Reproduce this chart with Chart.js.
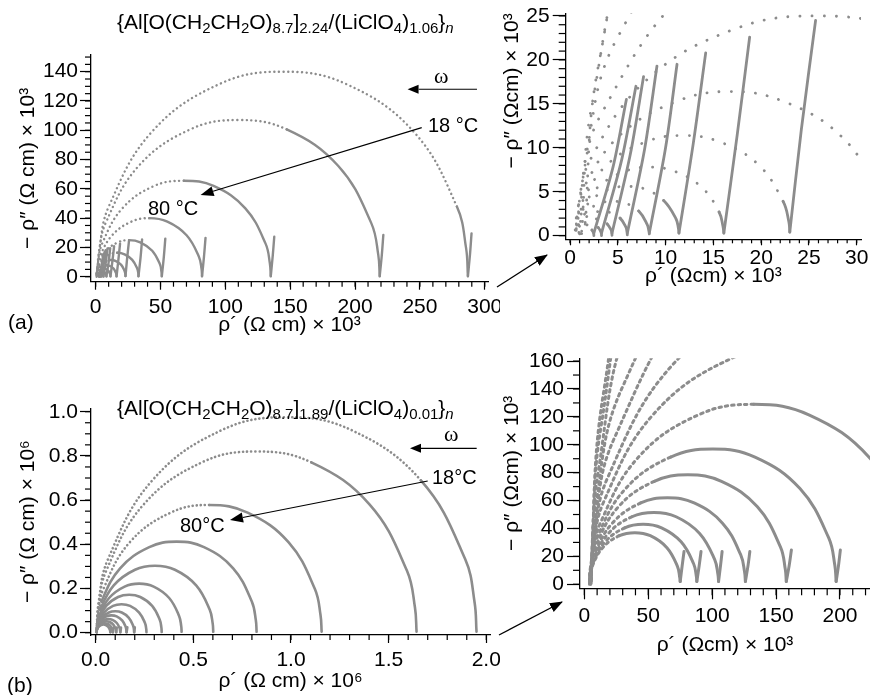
<!DOCTYPE html>
<html>
<head>
<meta charset="utf-8">
<script src="https://cdn.jsdelivr.net/npm/chart.js@4.4.1/dist/chart.umd.min.js"></script>
<style>
  body { margin: 0; background: #fff; }
  #fig { position: relative; width: 870px; height: 695px; overflow: hidden;
         font-family: 'Liberation Sans', Arial, sans-serif; color: #000; }
  canvas { position: absolute; }
  .t { position: absolute; white-space: nowrap; line-height: 1; font-size: 20px; }
  .ttl { font-size: 21px; }
  .t sub { font-size: 15px; vertical-align: -4px; line-height: 0; }
  .w { font-family: 'Liberation Serif', 'DejaVu Serif', serif; font-size: 22px; }
</style>
</head>
<body>
<div id="fig">
  <canvas id="aMain" width="500" height="340" style="left:0;top:0"></canvas>
  <canvas id="aZoom" width="370" height="292" style="left:500px;top:0"></canvas>
  <canvas id="bMain" width="500" height="350" style="left:0;top:345px"></canvas>
  <canvas id="bZoom" width="370" height="355" style="left:500px;top:340px"></canvas>

  <div class="t ttl" style="left:117px;top:11px">{Al[O(CH<sub>2</sub>CH<sub>2</sub>O)<sub>8.7</sub>]<sub>2.24</sub>/(LiClO<sub>4</sub>)<sub>1.06</sub>}<sub><i>n</i></sub></div>
  <div class="t ttl" style="left:117px;top:397px">{Al[O(CH<sub>2</sub>CH<sub>2</sub>O)<sub>8.7</sub>]<sub>1.89</sub>/(LiClO<sub>4</sub>)<sub>0.01</sub>}<sub><i>n</i></sub></div>

  <div class="t w" style="left:434px;top:65px">ω</div>
  <div class="t" style="left:428px;top:115px">18 °C</div>
  <div class="t" style="left:148px;top:198px">80 °C</div>
  <div class="t w" style="left:444px;top:423px">ω</div>
  <div class="t" style="left:432px;top:467px">18°C</div>
  <div class="t" style="left:180px;top:515px">80°C</div>

  <div class="t ttl" style="left:8px;top:311px">(a)</div>
  <div class="t ttl" style="left:7px;top:674px">(b)</div>

  <svg width="870" height="695" style="position:absolute;left:0;top:0;pointer-events:none">
    <defs>
      <marker id="ah" markerWidth="13" markerHeight="10" refX="12" refY="5" orient="auto" markerUnits="userSpaceOnUse">
        <path d="M0,0 L13,5 L0,10 z" fill="#000"/>
      </marker>
    </defs>
    <line x1="497" y1="287" x2="547" y2="255" stroke="#000" stroke-width="1.3" marker-end="url(#ah)"/>
    <line x1="499" y1="635" x2="562" y2="602" stroke="#000" stroke-width="1.3" marker-end="url(#ah)"/>
  </svg>
</div>

<script>
// ---- data (units: Ohm cm x 10^3) ----
// (a) Al/LiClO4 1.06 : arcs from low-frequency end (right) to high-frequency end (left)
const arcsA = [
  [[287,0.5],[285.6,19.5],[278.5,47.9],[245.2,99],[193.1,131.6],[144.3,140],[95.5,131.6],[43.4,99],[10.1,47.9],[3,19.5],[1.5,0]],
  [[219,0.5],[217.9,14.9],[212.5,36.6],[187.1,75.6],[147.3,100.6],[110.1,107],[72.9,100.6],[33.1,75.6],[7.7,36.6],[2.3,14.9],[1.2,0]],
  [[135,0.5],[134.3,9.2],[131,22.6],[115.4,46.7],[90.9,62],[68,65.5],[45.1,62],[20.6,46.7],[5,22.6],[1.7,9.2],[1,0]],
  [[82,0.4],[81.6,5.6],[79.6,13.7],[70.1,28.3],[55.3,37.6],[41.4,40],[27.5,37.6],[12.7,28.3],[3.2,13.7],[1.2,5.6],[0.8,0]],
  [[51,0.4],[50.7,3.5],[49.5,8.6],[43.6,17.7],[34.4,23.5],[25.8,25],[17.2,23.5],[8,17.7],[2.1,8.6],[0.9,3.5],[0.6,0]],
  [[33,0.4],[32.9,2.3],[32,5.6],[28.2,11.5],[22.3,15.3],[16.7,16.4],[11.2,15.3],[5.3,11.5],[1.5,5.6],[0.7,2.3],[0.5,0]],
  [[23,0.4],[22.9,1.6],[22.3,3.9],[19.7,8.1],[15.6,10.7],[11.8,11.4],[8,10.7],[3.9,8.1],[1.3,3.9],[0.7,1.6],[0.6,0]],
  [[16.1,0.3],[16,1.1],[15.6,2.7],[13.8,5.5],[11,7.3],[8.35,7.8],[5.7,7.3],[2.9,5.5],[1.1,2.7],[0.7,1.1],[0.6,0]],
  [[11.4,0.3],[11.35,0.8],[11.1,1.9],[9.8,4],[7.85,5.3],[6,5.6],[4.15,5.3],[2.2,4],[0.9,1.9],[0.65,0.8],[0.6,0]],
  [[8.3,0.2],[8.26,0.5],[8.07,1.3],[7.19,2.8],[5.8,3.7],[4.5,3.9],[3.2,3.7],[1.81,2.8],[0.93,1.3],[0.74,0.5],[0.7,0]],
  [[6,0.1],[5.97,0.4],[5.84,1],[5.24,2],[4.29,2.6],[3.4,2.8],[2.51,2.6],[1.56,2],[0.96,1],[0.83,0.4],[0.8,0]],
  [[4.4,0.05],[4.38,0.26],[4.3,0.65],[3.89,1.34],[3.25,1.79],[2.65,1.9],[2.05,1.79],[1.41,1.34],[1,0.65],[0.92,0.26],[0.9,0]],
  [[3.3,0],[3.29,0.18],[3.23,0.44],[2.96,0.92],[2.54,1.22],[2.15,1.3],[1.76,1.22],[1.34,0.92],[1.07,0.44],[1.01,0.18],[1,0]],
  [[2.5,0],[2.49,0.13],[2.46,0.31],[2.3,0.64],[2.04,0.85],[1.8,0.9],[1.56,0.85],[1.3,0.64],[1.14,0.31],[1.11,0.13],[1.1,0]]
];
// (a) electrode spikes rising from each low-frequency end
const spikesA = [
  [[287,0.3],[288.6,15],[289.8,29.5]],
  [[219,0.3],[220.6,14.5],[221.8,28.5]],
  [[135,0.3],[136.5,14],[137.7,27.3]],
  [[82,0.3],[83.5,13.5],[84.7,26.5]],
  [[51,0.3],[52.5,13],[53.7,26]],
  [[33,0.3],[34.6,13],[35.8,25.5]],
  [[23,0.4],[24.2,12],[25.7,24.5]],
  [[16.1,0.3],[17.5,11.5],[18.8,22.6]],
  [[11.4,0.3],[12.9,10.5],[14.2,20.8]],
  [[8.3,0.3],[10,10],[11.2,19.5]],
  [[6,0.3],[7.8,9.8],[9.1,19.3]],
  [[4.4,0.3],[6.3,9.2],[7.7,18.1]],
  [[3.3,0.3],[5.4,8.6],[6.9,17]],
  [[2.5,0.3],[4.5,7.8],[5.9,15.5]]
];
// (b) Al/LiClO4 0.01
const arcsB = [
  [[1950,5],[1940.3,135.5],[1891.7,333.5],[1665.1,689.3],[1310.1,916.5],[977.5,975],[644.9,916.5],[289.9,689.3],[63.3,333.5],[14.7,135.5],[5,0]],
  [[1643,5],[1634.8,114],[1593.9,280.4],[1403,579.7],[1104.1,770.8],[824,820],[543.9,770.8],[245,579.7],[54.1,280.4],[13.2,114],[5,0]],
  [[1157,5],[1151.2,80.3],[1122.4,197.7],[988.2,408.6],[778,543.3],[581,578],[384,543.3],[173.8,408.6],[39.6,197.7],[10.8,80.3],[5,0]],
  [[824,4],[819.9,57.3],[799.4,140.9],[704,291.3],[554.5,387.3],[414.5,412],[274.5,387.3],[125,291.3],[29.6,140.9],[9.1,57.3],[5,0]],
  [[602,4],[599,42.1],[584.1,103.6],[514.5,214.2],[405.6,284.8],[303.5,303],[201.4,284.8],[92.5,214.2],[22.9,103.6],[8,42.1],[5,0]],
  [[440,4],[437.8,30.9],[427,75.9],[376.3,157],[296.9,208.7],[222.5,222],[148.1,208.7],[68.7,157],[18,75.9],[7.2,30.9],[5,0]],
  [[338,3],[336.3,23.9],[328,58.8],[289.2,121.6],[228.4,161.7],[171.5,172],[114.6,161.7],[53.8,121.6],[15,58.8],[6.7,23.9],[5,0]],
  [[260,2],[258.7,17.9],[252.4,44.1],[222.6,91.2],[176.1,121.3],[132.5,129],[88.9,121.3],[42.4,91.2],[12.6,44.1],[6.3,17.9],[5,0]],
  [[197,2],[196,13.5],[191.2,33.2],[168.7,68.6],[133.5,91.2],[100.5,97],[67.5,91.2],[32.3,68.6],[9.8,33.2],[5,13.5],[4,0]],
  [[158,2],[157.2,10.9],[153.4,26.8],[135.4,55.5],[107.3,73.8],[81,78.5],[54.7,73.8],[26.6,55.5],[8.6,26.8],[4.8,10.9],[4,0]],
  [[126,2],[125.4,8.6],[122.3,21.2],[108.1,43.8],[85.9,58.3],[65,62],[44.1,58.3],[21.9,43.8],[7.7,21.2],[4.6,8.6],[4,0]],
  [[105,2],[104.5,7.2],[102,17.6],[90.2,36.4],[71.8,48.4],[54.5,51.5],[37.2,48.4],[18.8,36.4],[7,17.6],[4.5,7.2],[4,0]],
  [[88,2],[87.6,6],[85.5,14.7],[75.7,30.4],[60.4,40.4],[46,43],[31.6,40.4],[16.3,30.4],[6.5,14.7],[4.4,6],[4,0]],
  [[75,2],[74.6,5.1],[72.9,12.7],[64.6,26.2],[51.6,34.8],[39.5,37],[27.4,34.8],[14.4,26.2],[6.1,12.7],[4.4,5.1],[4,0]]
];
const spikesB = [
  [[197,2],[198.8,13],[200.3,24.5]],
  [[158,2],[160.2,13],[162,24.5]],
  [[126,2],[128,13],[129.5,23.5]],
  [[105,2],[106.5,13],[107.8,23.5]],
  [[88,2],[89.8,13],[91.3,23.5]],
  [[75,2],[76.5,13],[78,23.5]]
];

// tick values
const ticksAMainX = [0, 50, 100, 150, 200, 250, 300];
const ticksAMainY = [0, 20, 40, 60, 80, 100, 120, 140];
const ticksAZoomX = [0, 5, 10, 15, 20, 25, 30];
const ticksAZoomY = [0, 5, 10, 15, 20, 25];
const ticksBMainX = [0, 500, 1000, 1500, 2000];
const ticksBMainY = [0, 200, 400, 600, 800, 1000];
const ticksBZoomX = [0, 50, 100, 150, 200];
const ticksBZoomY = [0, 20, 40, 60, 80, 100, 120, 140, 160];

const GRAY = '#8c8c8c';
Chart.defaults.font.family = "'Liberation Sans', Arial, sans-serif";
Chart.defaults.font.size = 21;
Chart.defaults.color = '#000';

// minor ticks and arrows, per canvas
const EXTRA = {
  aMain: {minorX: 10, minorY: 5, lenX: 5, lenY: 6,
          arrows: [[294, 128, 240.5, 128, 11, 4.5], [251.4, 101.8, 80.9, 55.8, 13, 5]]},
  aZoom: {minorX: 1, minorY: 1, lenX: 4, lenY: 7, arrows: []},
  bMain: {minorX: 100, minorY: 50, lenX: 5, lenY: 6,
          arrows: [[1950.8, 834.4, 1609.3, 834.4, 11, 4.5], [1700, 686.4, 687.7, 510, 13, 5]]},
  bZoom: {minorX: 10, minorY: 10, lenX: 7, lenY: 7, arrows: []}
};

const extras = {
  id: 'extras',
  afterDraw(chart) {
    const o = EXTRA[chart.canvas.id];
    const {ctx, chartArea: ca, scales: {x, y}} = chart;
    ctx.save();
    ctx.strokeStyle = '#000';
    ctx.fillStyle = '#000';
    ctx.lineWidth = 1.2;
    for (let i = 0; i * o.minorX <= x.max; i++) {
      const px = x.getPixelForValue(i * o.minorX);
      ctx.beginPath(); ctx.moveTo(px, ca.bottom); ctx.lineTo(px, ca.bottom + o.lenX); ctx.stroke();
    }
    for (let i = 0; i * o.minorY <= y.max; i++) {
      const py = y.getPixelForValue(i * o.minorY);
      ctx.beginPath(); ctx.moveTo(ca.left, py); ctx.lineTo(ca.left - o.lenY, py); ctx.stroke();
    }
    o.arrows.forEach(([x1, y1, x2, y2, len, half]) => {
      const p1x = x.getPixelForValue(x1), p1y = y.getPixelForValue(y1);
      const p2x = x.getPixelForValue(x2), p2y = y.getPixelForValue(y2);
      const ang = Math.atan2(p2y - p1y, p2x - p1x);
      const bx = p2x - len * Math.cos(ang), by = p2y - len * Math.sin(ang);
      ctx.beginPath(); ctx.moveTo(p1x, p1y); ctx.lineTo(bx, by); ctx.stroke();
      ctx.beginPath();
      ctx.moveTo(p2x, p2y);
      ctx.lineTo(bx + half * Math.sin(ang), by - half * Math.cos(ang));
      ctx.lineTo(bx - half * Math.sin(ang), by + half * Math.cos(ang));
      ctx.closePath(); ctx.fill();
    });
    ctx.restore();
  }
};

function makeSets(arcs, spikes, width, dash, dotFrom) {
  const sets = arcs.map((arc, i) => ({
    data: arc.map(([x, y]) => ({x, y})),
    showLine: true, tension: 0.4, borderColor: GRAY, borderWidth: width,
    borderCapStyle: 'round', pointRadius: 0, clip: 0,
    segment: {borderDash: c => (c.p0DataIndex >= dotFrom(i) ? dash : undefined)}
  }));
  spikes.forEach(sp => sets.push({
    data: sp.map(([x, y]) => ({x, y})),
    showLine: true, tension: 0.3, borderColor: GRAY, borderWidth: width,
    borderCapStyle: 'round', pointRadius: 0, clip: 0
  }));
  return sets;
}

function axis(o) {
  return {
    type: 'linear', min: o.min, max: o.max,
    afterFit: s => {
      if (s.isHorizontal()) { s.height = o.size; s.paddingLeft = 0; s.paddingRight = 0; }
      else { s.width = o.size; s.paddingTop = 0; s.paddingBottom = 0; }
    },
    afterBuildTicks: s => { s.ticks = o.ticks.map(v => ({value: v})); },
    border: {display: true, color: '#000', width: 1.3},
    grid: {drawOnChartArea: false, drawTicks: true, tickLength: o.tick, tickColor: '#000', tickWidth: 1.2},
    ticks: {padding: o.pad, maxRotation: 0, autoSkip: false, callback: o.fmt || (v => String(v))},
    title: {display: true, text: o.title, font: {size: 21}, padding: o.tpad, align: o.align || 'center'}
  };
}

function figure(id, pad, xs, ys, sets) {
  return new Chart(document.getElementById(id), {
    type: 'scatter',
    data: {datasets: sets},
    options: {
      responsive: false, animation: false, events: [],
      layout: {padding: pad},
      scales: {x: axis(xs), y: axis(ys)},
      plugins: {legend: {display: false}, tooltip: {enabled: false}}
    },
    plugins: [extras]
  });
}

const mega = v => (v / 1000).toFixed(1);

figure('aMain', {left: 0, top: 55, right: 12, bottom: 0},
  {min: -3.6, max: 302.5, size: 58.3, ticks: ticksAMainX, tick: 8, pad: 5,
   title: 'ρ´ (Ω cm) × 10³', tpad: {top: 0, bottom: 2.4}},
  {min: -3.4, max: 151.4, size: 91, ticks: ticksAMainY, tick: 11, pad: 2,
   title: '− ρ″ (Ω cm) × 10³', tpad: {top: 15.4, bottom: 0}},
  makeSets(arcsA, spikesA, 2.4, [0.1, 4.5], i => (i === 0 ? 2 : i === 1 ? 4 : 5)));

figure('aZoom', {left: 0, top: 13.3, right: 9, bottom: 0},
  {min: -0.45, max: 30.45, size: 52.7, ticks: ticksAZoomX, tick: 6, pad: 0,
   title: 'ρ´ (Ωcm) × 10³', tpad: {top: 0, bottom: 3}},
  {min: -0.41, max: 25.3, size: 65.7, ticks: ticksAZoomY, tick: 13, pad: 3,
   title: '− ρ″ (Ωcm) × 10³', tpad: {top: 0, bottom: 0}, align: 'end'},
  makeSets(arcsA, spikesA, 2.8, [0.1, 12], i => (i < 6 ? 0 : i < 8 ? 2 : 3)));

figure('bMain', {left: 0, top: 63.3, right: 10, bottom: 0},
  {min: -24, max: 2019, size: 60, ticks: ticksBMainX, tick: 8, pad: 5, fmt: mega,
   title: 'ρ´ (Ω cm) × 10⁶', tpad: {top: 0, bottom: 0.7}},
  {min: -10.4, max: 1015.4, size: 91, ticks: ticksBMainY, tick: 11, pad: 2, fmt: mega,
   title: '− ρ″ (Ω cm) × 10⁶', tpad: {top: 15.4, bottom: 0}},
  makeSets(arcsB, spikesB, 2.6, [0.1, 4], i => (i === 0 ? 3 : i === 1 ? 4 : i === 2 ? 5 : 8)));

figure('bZoom', {left: 0, top: 18.3, right: 0, bottom: 0},
  {min: -3.4, max: 223.5, size: 106.7, ticks: ticksBZoomX, tick: 11, pad: 4,
   title: 'ρ´ (Ωcm) × 10³', tpad: {top: 0, bottom: 37.4}},
  {min: -2.9, max: 162, size: 80, ticks: ticksBZoomY, tick: 13, pad: 3,
   title: '− ρ″ (Ωcm) × 10³', tpad: {top: 0, bottom: 0}},
  makeSets(arcsB, spikesB, 3, [2.5, 4], i => (i < 7 ? 0 : i === 7 ? 5 : 6)));
</script>
</body>
</html>
